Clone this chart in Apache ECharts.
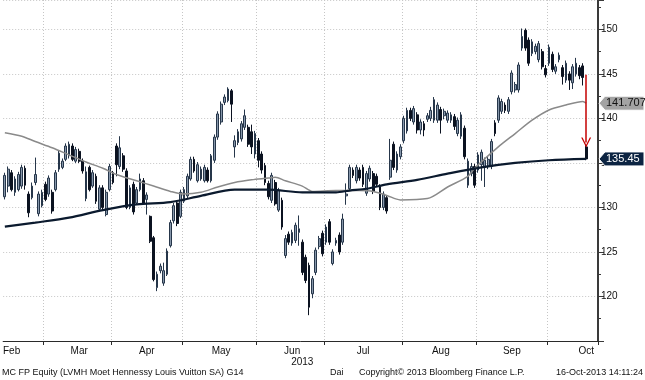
<!DOCTYPE html>
<html><head><meta charset="utf-8">
<script src="https://cdn.jsdelivr.net/npm/echarts/dist/echarts.min.js"></script>
<style>html,body{margin:0;padding:0;background:#fff}#c{width:645px;height:380px}</style>
</head><body><div id="c"></div>
<script>
// ---------- data ----------
const firstDay = '2013-02-13', lastDay = '2013-10-16';
const calStart = '2013-02-01', calEnd = '2013-10-31';
const holidays = ['2013-03-29', '2013-04-01', '2013-05-01'];
const monthNames = ['Jan','Feb','Mar','Apr','May','Jun','Jul','Aug','Sep','Oct','Nov','Dec'];
const yearLabel = '2013';
const padCount = 3;

const opens = [131.2,132.4,133.9,131.7,132.0,132.4,134.4,131.5,131.1,132.8,129.3,130.2,
132.6,131.5,131.7,132.0,134.3,134.5,135.4,135.8,136.9,135.2,136.3,135.2,131.0,134.5,132.4,133.5,129.8,132.2,129.2,132.0,
133.9,136.9,134.6,135.8,134.1,130.0,132.6,130.5,132.0,133.0,130.9,129.0,126.6,121.0,122.9,121.5,122.5,125.7,128.5,130.5,129.0,
130.7,131.3,133.2,135.4,133.0,133.2,133.0,134.2,133.0,135.3,137.9,139.6,141.8,142.0,143.1,136.8,137.3,137.7,139.0,139.0,138.5,136.0,
137.5,136.0,134.7,132.7,130.8,132.8,129.7,130.8,124.6,127.0,126.0,126.3,127.2,126.1,124.4,123.5,120.3,122.7,125.6,127.1,
126.1,128.4,123.7,126.0,126.9,126.1,131.3,132.1,134.2,133.0,134.2,134.5,131.6,133.2,133.8,133.5,132.3,130.0,131.1,133.4,137.1,134.2,135.7,
137.5,138.6,140.9,139.6,140.4,138.7,139.4,139.9,140.0,139.8,139.8,141.0,140.3,139.8,139.8,140.2,138.3,138.0,138.9,132.5,133.8,134.6,
134.2,134.8,134.5,134.6,134.6,139.5,139.8,140.8,141.5,140.8,143.0,143.2,143.2,147.9,149.9,148.8,147.3,147.5,146.6,147.5,145.6,
146.2,147.2,145.3,146.6,145.7,144.3,145.0,144.0,145.0,145.7,145.9,136.8];
const closes = [133.6,134.3,132.0,133.2,133.7,134.5,132.5,129.4,132.4,133.7,131.5,131.7,
130.9,133.3,129.6,133.9,136.1,135.2,136.9,137.1,135.4,136.5,135.2,134.1,134.0,132.0,133.9,130.7,132.2,130.0,131.7,134.6,
132.8,134.8,136.7,134.3,130.0,132.2,129.5,132.0,133.2,130.5,131.4,126.2,121.9,122.5,123.4,122.9,125.1,128.3,130.2,128.2,131.7,
132.0,133.5,135.4,134.1,134.8,134.3,134.5,133.0,135.8,137.9,140.5,141.6,142.4,143.3,141.6,137.5,138.5,139.4,140.3,137.1,136.8,138.3,
135.3,134.2,132.8,131.2,133.6,130.4,131.9,127.8,126.5,126.1,127.2,128.0,127.6,122.7,121.8,118.8,122.0,125.2,126.5,124.8,
127.8,126.1,125.0,126.3,125.0,128.7,131.5,134.5,133.6,134.5,133.3,132.6,133.8,134.4,131.8,132.6,130.0,131.5,129.6,135.3,134.5,136.0,136.8,
140.0,140.9,140.0,141.1,138.7,139.6,138.7,140.3,140.9,142.1,141.5,139.8,140.8,140.6,140.4,139.1,139.8,140.4,135.7,135.2,134.6,132.5,
135.9,136.2,135.3,135.4,137.4,138.3,142.3,141.9,140.9,142.1,145.1,143.8,146.0,149.2,147.9,146.2,148.6,148.1,148.4,145.8,144.9,
148.0,145.5,145.8,147.1,144.7,146.2,144.3,145.8,146.2,144.8,144.6,135.45];
const lows = [130.9,131.7,131.8,131.3,131.8,132.1,132.0,128.9,130.9,132.5,129.0,130.0,
130.7,131.2,129.3,131.8,134.0,134.3,135.2,135.5,135.2,135.0,135.0,133.8,130.7,131.8,132.2,130.4,129.6,129.8,129.0,131.8,
132.6,133.5,134.3,134.0,129.8,129.8,129.2,130.3,131.8,130.3,129.2,126.0,121.7,120.6,122.6,121.2,122.3,125.5,128.2,127.9,128.8,
130.5,131.0,133.0,133.9,132.8,133.0,132.8,132.8,132.8,135.0,137.6,139.3,141.5,141.8,139.6,135.6,137.0,137.4,138.7,136.8,136.0,135.5,
134.5,133.8,132.5,130.9,130.5,130.2,129.5,127.5,124.3,125.8,125.7,126.0,125.7,122.4,121.5,117.9,119.8,122.4,125.3,124.5,
125.8,125.8,123.5,125.7,124.7,125.8,130.3,131.9,133.3,132.7,133.0,132.3,131.3,132.9,131.5,132.3,129.7,129.7,129.3,133.1,134.2,133.9,135.4,
137.2,138.3,139.7,139.3,138.3,138.2,138.0,139.6,139.7,139.5,139.5,138.3,139.9,139.5,139.5,138.7,138.0,137.7,135.4,132.2,133.5,132.2,
133.9,133.0,132.3,134.3,134.3,138.0,139.5,140.5,140.6,140.5,142.7,142.9,142.9,147.6,147.6,145.9,147.0,147.2,146.3,145.5,144.6,
145.9,145.2,145.0,146.3,143.8,144.0,143.2,143.3,144.7,144.4,143.7,135.3];
const highs = [133.9,134.6,134.2,133.5,134.0,134.8,134.7,131.8,132.8,135.6,131.8,132.0,
132.9,133.6,132.0,134.2,136.4,135.5,137.2,137.4,137.2,136.8,136.6,135.5,134.6,134.7,134.2,133.8,132.5,132.5,132.0,134.9,
134.1,137.2,138.0,136.1,134.4,132.5,132.9,132.3,133.8,133.3,131.7,129.1,126.8,122.8,123.7,123.8,125.4,128.6,130.5,130.8,132.0,
132.3,133.8,135.7,135.7,135.1,134.6,134.8,134.5,136.0,138.2,140.8,141.9,142.7,143.5,143.3,138.1,138.8,139.7,141.0,139.3,139.3,138.6,
137.8,136.3,135.0,133.0,133.9,133.1,132.2,131.1,126.9,127.3,127.5,128.3,129.1,126.4,124.7,123.8,122.3,125.5,126.8,127.4,
128.1,128.7,125.3,126.6,127.2,129.3,132.7,134.8,134.5,134.8,134.5,134.8,134.1,134.7,134.1,133.8,132.6,131.8,131.4,137.7,137.4,136.3,137.1,
140.3,141.2,141.2,141.4,140.7,139.9,139.7,140.6,141.3,142.4,141.8,141.3,141.1,140.9,140.7,140.5,140.1,140.7,139.2,135.5,135.0,134.9,
136.2,136.5,135.6,135.7,137.7,139.8,142.6,142.2,141.8,142.4,145.4,144.1,146.3,150.1,150.1,149.1,148.9,148.4,148.7,147.8,146.0,
148.3,147.5,146.1,147.4,146.0,146.5,145.3,146.1,146.8,146.0,146.2,137.0];

// moving averages: [trading-day index, value]
const ma50 = [[0,138.4],[5,138.0],[9,137.4],[14,136.7],[19,135.9],[24,135.1],[29,134.4],[33,133.7],[39,133.0],[44,132.4],
[49,131.8],[53,131.5],[58,131.7],[63,132.3],[68,132.8],[73,133.1],[78,133.3],[80,133.4],[83,133.0],[88,132.4],[91,131.8],
[98,131.9],[105,131.9],[109,131.8],[113,131.35],[117,130.85],[125,131.0],[131,132.3],[137,133.5],[139,134.4],[146,136.8],
[151,138.3],[156,139.8],[161,140.95],[166,141.5],[171,141.9],[172,141.707]];
const ma200 = [[0,127.85],[9,128.3],[19,128.85],[29,129.7],[39,130.35],[49,130.6],[58,131.3],[68,132.0],[78,132.0],[88,131.7],
[98,131.7],[102,131.9],[107,132.1],[113,132.6],[122,133.1],[131,133.8],[141,134.5],[151,135.0],[161,135.3],[172,135.45]];

const lastPrice = 135.45, ma50Last = 141.707;
const arrowFrom = 144.9, arrowTo = 137.3;
const yMin = 115, yMax = 153.3, yStep = 5;
const footerLeft = 'MC FP Equity (LVMH Moet Hennessy Louis Vuitton SA) G14';
const footerMid = 'Dai';
const footerCopy = 'Copyright\u00A9 2013 Bloomberg Finance L.P.';
const footerDate = '16-Oct-2013 14:11:24';

// ---------- calendar / categories ----------
function iso(d){ return d.toISOString().slice(0,10); }
const fullDays = [];
for (let d = new Date(calStart + 'T00:00:00Z'); iso(d) <= calEnd; d.setUTCDate(d.getUTCDate()+1)) {
  const wd = d.getUTCDay();
  const s = iso(d);
  if (wd !== 0 && wd !== 6 && holidays.indexOf(s) < 0) fullDays.push(s);
}
const offset = fullDays.indexOf(firstDay);
const endIdx = fullDays.indexOf(lastDay);
const cats = fullDays.slice(offset, endIdx + 1);
for (let i = 0; i < padCount; i++) cats.push('pad' + i);
const nReal = endIdx - offset + 1;

const monthStart = {};
for (let i = 1; i < nReal; i++) if (cats[i].slice(5,7) !== cats[i-1].slice(5,7)) monthStart[i] = true;
const labelMap = {};
const monthsSeen = {};
fullDays.forEach((s, i) => { const m = s.slice(0,7); (monthsSeen[m] = monthsSeen[m] || []).push(i); });
Object.keys(monthsSeen).forEach(m => {
  const arr = monthsSeen[m];
  const mid = Math.round((arr[0] + arr[arr.length-1]) / 2) - offset;
  if (mid >= 0 && mid < cats.length) labelMap[mid] = monthNames[parseInt(m.slice(5,7),10)-1];
});
const yearIdx = Math.round((cats.length - 1) / 2);
labelMap[yearIdx] = (labelMap[yearIdx] ? labelMap[yearIdx] : '') + '\n' + yearLabel;

const candleData = opens.map((o, i) => [o, closes[i], lows[i], highs[i]]);

// ---------- chart ----------
const FONT = '"Liberation Sans", Arial, sans-serif';
const chart = echarts.init(document.getElementById('c'), null, {renderer: 'canvas'});
chart.setOption({
  animation: false,
  backgroundColor: '#ffffff',
  grid: {left: 0, right: 47, top: 0, bottom: 39, containLabel: false},
  xAxis: {
    type: 'category', data: cats, boundaryGap: true,
    axisLine: {lineStyle: {color: '#2a2a2a', width: 1}},
    axisTick: {show: true, interval: (i) => !!monthStart[i], length: 4, lineStyle: {color: '#2a2a2a'}},
    axisLabel: {interval: (i) => labelMap[i] !== undefined, formatter: (v, i) => labelMap[i] || '',
      color: '#111', fontSize: 10, fontFamily: FONT, margin: 5, lineHeight: 11},
    splitLine: {show: true, interval: (i) => !!monthStart[i], lineStyle: {color: '#c6c6c6', type: [1, 2], width: 1}}
  },
  yAxis: {
    type: 'value', position: 'right', min: yMin, max: yMax, interval: yStep, scale: true,
    axisLine: {show: true, lineStyle: {color: '#3a3a3a', width: 2}},
    axisTick: {show: true, length: 6, lineStyle: {color: '#3a3a3a', width: 1}},
    minorTick: {show: true, splitNumber: 2, length: 3, lineStyle: {color: '#3a3a3a'}},
    axisLabel: {formatter: (v) => (v > yMin && Math.abs(v % yStep) < 1e-6) ? String(v) : '',
      color: '#111', fontSize: 10, fontFamily: FONT, margin: 3, showMaxLabel: false},
    splitLine: {show: true, lineStyle: {color: '#c6c6c6', type: [1, 2], width: 1}}
  },
  series: [
    {
      type: 'candlestick', data: candleData, barWidth: '66%',
      itemStyle: {color: '#8797ab', color0: '#0b1220', borderColor: '#26364a', borderColor0: '#0b1220', borderWidth: 1},
      markLine: {
        silent: true, symbol: ['none', 'path://M0,10 L5,0 L10,10 L8.6,10 L5,2.8 L1.4,10 Z'], symbolSize: [10, 10],
        label: {show: false},
        lineStyle: {color: '#c40000', width: 1.5, type: 'solid'},
        data: [[{coord: [cats[nReal-1], arrowFrom]}, {coord: [cats[nReal-1], arrowTo]}]]
      },
      z: 2
    },
    {type: 'line', data: ma50, smooth: 0.3, symbol: 'none', lineStyle: {color: '#8a8a8a', width: 1.5}, z: 3},
    {type: 'line', data: ma200, smooth: 0.3, symbol: 'none', lineStyle: {color: '#0b1a2e', width: 2.2}, z: 4}
  ]
});

function tag(value, fill, textColor) {
  const y = chart.convertToPixel({yAxisIndex: 0}, value);
  const x0 = 645 - 47;
  return [
    {type: 'polygon', shape: {points: [[x0 + 1, y], [x0 + 7, y - 7], [644, y - 7], [644, y + 7], [x0 + 7, y + 7]]},
     style: {fill: fill, stroke: '#ffffff', lineWidth: 1}, z: 10},
    {type: 'text', x: x0 + 8, y: y, z: 11,
     style: {text: String(value), fill: textColor, font: '11px ' + FONT, align: 'left', verticalAlign: 'middle'}}
  ];
}
const g = [].concat(
  tag(ma50Last, '#a3a3a3', '#111111'),
  tag(lastPrice, '#0c2442', '#ffffff'),
  [
    {type: 'text', x: 2, y: 373, style: {text: footerLeft, fill: '#111', font: '9px ' + FONT, align: 'left', verticalAlign: 'middle'}},
    {type: 'text', x: 330, y: 373, style: {text: footerMid, fill: '#111', font: '9px ' + FONT, align: 'left', verticalAlign: 'middle'}},
    {type: 'text', x: 359, y: 373, style: {text: footerCopy, fill: '#111', font: '9px ' + FONT, align: 'left', verticalAlign: 'middle'}},
    {type: 'text', x: 643, y: 373, style: {text: footerDate, fill: '#111', font: '9px ' + FONT, align: 'right', verticalAlign: 'middle'}}
  ]
);
chart.setOption({graphic: g});
</script>
</body></html>
